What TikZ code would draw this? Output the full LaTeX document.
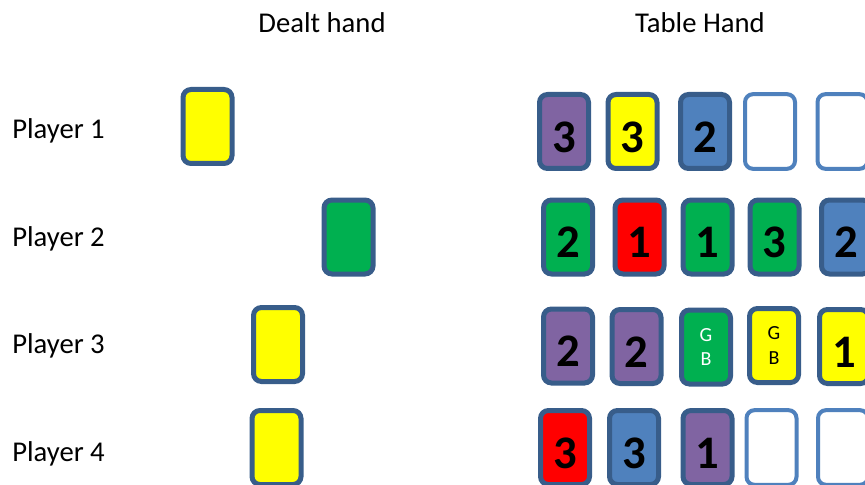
\documentclass[tikz,border=0pt]{standalone}
\usepackage{fontspec}
\setmainfont{Carlito}
\usepackage{xcolor}
\definecolor{CardEdge}{RGB}{56,93,138}
\definecolor{EmptyEdge}{RGB}{79,129,189}
\definecolor{CardPurple}{RGB}{128,100,162}
\definecolor{CardBlue}{RGB}{79,129,189}
\definecolor{CardGreen}{RGB}{0,176,80}
\definecolor{CardRed}{RGB}{255,0,0}
\definecolor{CardYellow}{RGB}{255,255,0}
\usepackage{tikz}
\usetikzlibrary{positioning}

\tikzset{
  card/.style={draw=CardEdge, line width=3.75pt, rounded corners=6pt,
    minimum width=36.75pt, minimum height=55.5pt, inner sep=0pt,
    font=\fontsize{35}{35}\selectfont\bfseries, text height=31pt, text depth=0pt},
  emptycard/.style={draw=EmptyEdge, line width=3pt, fill=white, rounded corners=6pt,
    minimum width=37.5pt, minimum height=56pt, inner sep=0pt},
  gbcard/.style={card, font=\fontsize{15}{18.5}\selectfont, align=center,
    text height=, text depth=},
  caption/.style={font=\fontsize{21.5}{24}\selectfont, inner sep=0pt}
}

\begin{document}
\begin{tikzpicture}[x=0.75pt, y=-0.75pt]
  \useasboundingbox (0,0) rectangle (865,485);
  % Titulos
  \node[caption] (dealt) at (322,23) {Dealt hand};
  \node[caption] (table) at (700,23) {Table Hand};
  % Jugadores
  \node[caption, anchor=west] (p1) at (12,131) {Player 1};
  \node[caption, anchor=west] (p2) at (12,239) {Player 2};
  \node[caption, anchor=west] (p3) at (12,346) {Player 3};
  \node[caption, anchor=west] (p4) at (12,454) {Player 4};
  % Mano repartida
  \node[card, fill=CardYellow] (d1) at (207.5,126.5) {};
  \node[card, fill=CardGreen] (d2) at (348.5,237) {};
  \node[card, fill=CardYellow] (d3) at (278,344.5) {};
  \node[card, fill=CardYellow] (d4) at (276.5,447.5) {};
  % Mesa, jugador 1
  \node[card, fill=CardPurple] (t11) at (564,131.5) {3};
  \node[card, fill=CardYellow] (t12) at (632.5,131.5) {3};
  \node[card, fill=CardBlue] (t13) at (705,131.5) {2};
  \node[emptycard] (t14) at (770,131.5) {};
  \node[emptycard] (t15) at (842.5,131.5) {};
  % Mesa, jugador 2
  \node[card, fill=CardGreen] (t21) at (568,237) {2};
  \node[card, fill=CardRed] (t22) at (639.5,237) {1};
  \node[card, fill=CardGreen] (t23) at (707.5,237) {1};
  \node[card, fill=CardGreen] (t24) at (774.5,237) {3};
  \node[card, fill=CardBlue] (t25) at (846,237) {2};
  % Mesa, jugador 3
  \node[card, fill=CardPurple] (t31) at (568,346) {2};
  \node[card, fill=CardPurple] (t32) at (636.5,346.5) {2};
  \node[gbcard, fill=CardGreen, text=white] (t33) at (706,347) {G\\B};
  \node[gbcard, fill=CardYellow] (t34) at (774,345.5) {G\\B};
  \node[card, fill=CardYellow] (t35) at (844,346.5) {1};
  % Mesa, jugador 4
  \node[card, fill=CardRed] (t41) at (565,447.5) {3};
  \node[card, fill=CardBlue] (t42) at (634,447.5) {3};
  \node[card, fill=CardPurple] (t43) at (707.5,447.5) {1};
  \node[emptycard] (t44) at (771.5,447.5) {};
  \node[emptycard] (t45) at (843,447.5) {};
\end{tikzpicture}
\end{document}
